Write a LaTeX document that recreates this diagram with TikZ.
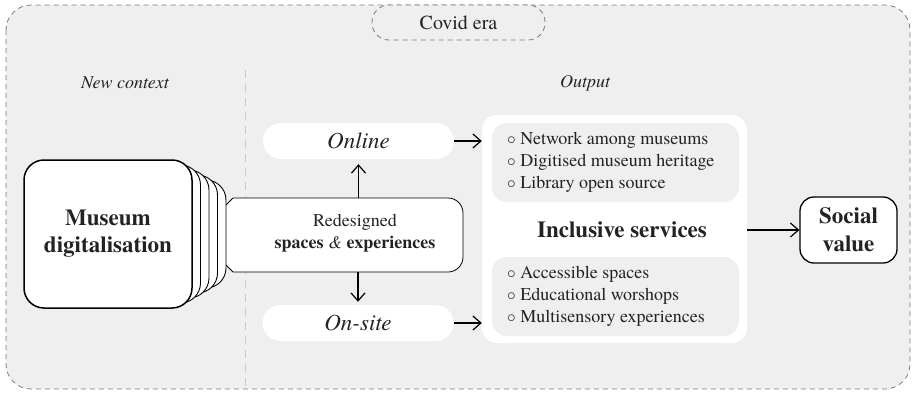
\documentclass[tikz,border=0pt]{standalone}
\usepackage{fontspec}
\setmainfont{texgyretermes}[Extension=.otf,UprightFont=*-regular,BoldFont=*-bold,ItalicFont=*-italic,BoldItalicFont=*-bolditalic]
\usetikzlibrary{arrows.meta}
\definecolor{bggray}{HTML}{EFEFEF}
\definecolor{framegray}{HTML}{7A7A7A}
\definecolor{inkgray}{HTML}{222222}
\tikzset{
  pill/.style={fill=white,rounded corners=18pt,minimum width=191pt,minimum height=36pt,inner sep=0pt,font=\fontsize{23}{27}\selectfont\itshape},
  listbox/.style={fill=bggray,rounded corners=15pt,minimum width=247pt,minimum height=79pt,inner sep=0pt},
  listtext/.style={anchor=west,align=left,inner sep=0pt,font=\fontsize{18}{22}\selectfont},
  header/.style={font=\fontsize{18}{22}\selectfont\itshape},
  layer/.style={draw,fill=white,line width=0.9pt,rounded corners=20pt},
  arr/.style={line width=1.2pt,-{Straight Barb[length=8pt,width=14pt]}},
}
\begin{document}
\begin{tikzpicture}[x={(1pt,0)},y={(0,-1pt)},every node/.style={text=inkgray}]
\useasboundingbox (0,0) rectangle (913,392);
%        %% help grid, comment out in the final picture
%        \draw[help lines,step=50] (0,0) grid (913,392);

% frame
\draw[framegray,dash pattern=on 5pt off 4pt,line width=0.8pt,fill=bggray,rounded corners=25pt] (6,5) rectangle (910,389);
\node[draw=framegray,dash pattern=on 5pt off 4pt,line width=0.8pt,fill=bggray,rounded corners=17pt,minimum width=173pt,minimum height=35pt,inner sep=0pt,font=\fontsize{20}{24}\selectfont] (covid) at (458.5,22.5) {Covid era};

% headers
\draw[black!20,dash pattern=on 8pt off 6pt] (245,70) -- (245,389);
\node[header] (context) at (125,83) {New context};
\node[header] (output) at (585,83) {Output};

% redesigned box and funnel
\coordinate (rnw) at (233,198);
\coordinate (rse) at (463,272);
\draw[line width=0.8pt,fill=white,rounded corners=15pt] (rnw) -- (rse |- rnw) -- (rse) -- (rnw |- rse);
\fill[white] (215,216) -- (233,198) -- (233,272) -- (215,254) -- cycle;
\draw[line width=0.8pt] (215,216) -- (233,198) (215,254) -- (233,272);

% stacked layers
\foreach \i in {4,3,2,1}
  \draw[layer] (24+8.5*\i,160+5*\i) rectangle (192+8.5*\i,308-5*\i);

% museum
\node[draw,fill=white,line width=1.5pt,rounded corners=20pt,minimum width=168pt,minimum height=148pt,inner sep=0pt,align=center,font=\fontsize{23}{27}\selectfont\bfseries] (museum) at (108,234) {Museum\\digitalisation};
\node[align=center,font=\fontsize{18}{22}\selectfont] (redes) at (355,233) {Redesigned\\\textbf{spaces} \textit{\&} \textbf{experiences}};

% channels
\node[pill] (online) at (358.5,141) {Online};
\node[pill] (onsite) at (358,323) {On-site};

% output panel
\node[fill=white,rounded corners=15pt,minimum width=265pt,minimum height=228pt,inner sep=0pt] (panel) at (614.5,229) {};
\node[listbox] (digibox) at (615.5,162.5) {};
\node[listbox] (accbox) at (615.5,296.5) {};
\node[listtext] (digilist) at (507,162) {$\circ$ Network among museums\\$\circ$ Digitised museum heritage\\$\circ$ Library open source};
\node[listtext] (acclist) at (507,296) {$\circ$ Accessible spaces\\$\circ$ Educational worshops\\$\circ$ Multisensory experiences};
\node[font=\fontsize{23}{27}\selectfont\bfseries] (incl) at (622,230) {Inclusive services};

% value
\node[draw,line width=1.3pt,fill=white,rounded corners=14pt,minimum width=97pt,minimum height=66pt,inner sep=0pt,align=center,font=\fontsize{23}{28}\selectfont\bfseries] (social) at (848.5,230) {Social\\value};

% arrows
\draw[arr,shorten >=5pt] (online.south |- rnw) -- (online.south);
\draw[arr,shorten >=3pt] (onsite.north |- rse) -- (onsite.north);
\draw[arr] (online.east) -- (online.east -| panel.west);
\draw[arr] (onsite.east) -- (onsite.east -| panel.west);
\draw[arr] (social.west -| panel.east) -- (social.west);

\end{tikzpicture}
\end{document}
